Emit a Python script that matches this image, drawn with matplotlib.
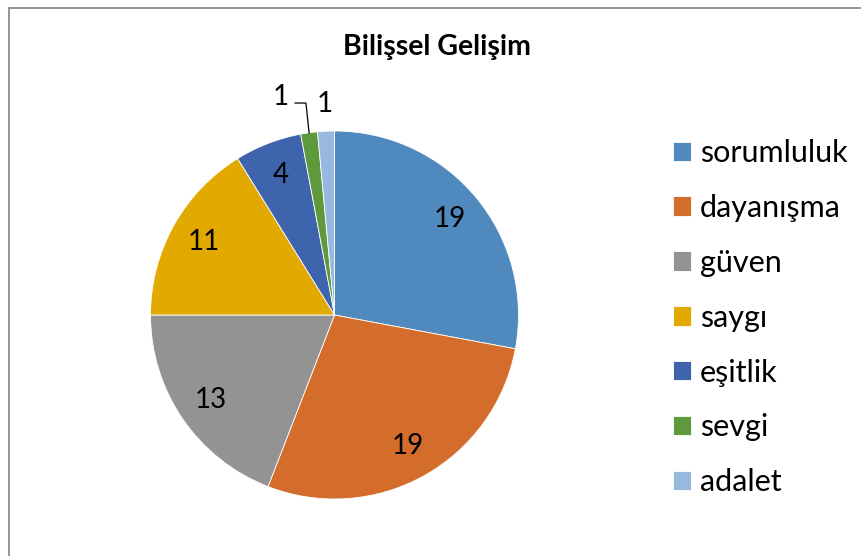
import numpy as np
import matplotlib
matplotlib.use("Agg")
import matplotlib.pyplot as plt

plt.rcParams['font.family'] = ['Lato', 'DejaVu Sans']

# veriler
labels = ['sorumluluk', 'dayanışma', 'güven', 'saygı', 'eşitlik', 'sevgi', 'adalet']
values = [19, 19, 13, 11, 4, 1, 1]
colors = ['#4F89BD', '#D46D2C', '#939393', '#E2A900', '#3E64AD', '#5E9A3B', '#97B9E0']
title = 'Bilişsel Gelişim'

W, H = 861, 556
fig = plt.figure(figsize=(W / 100, H / 100), dpi=100)

# dış çerçeve (sağ ve alt kenar görünmüyor)
fig.add_artist(plt.Line2D([8.5 / W, 8.5 / W], [0, 1 - 7.5 / H], transform=fig.transFigure,
                          color='#8C8C8C', linewidth=1.3))
fig.add_artist(plt.Line2D([8.5 / W, 1], [1 - 7.5 / H, 1 - 7.5 / H], transform=fig.transFigure,
                          color='#8C8C8C', linewidth=1.3))

cx, cy, r = 334.5, 315, 184
ax = fig.add_axes([(cx - r) / W, (H - cy - r) / H, 2 * r / W, 2 * r / H])

wedges, _ = ax.pie(values, colors=colors, startangle=90, counterclock=False,
                   radius=1, wedgeprops=dict(edgecolor='white', linewidth=0.6))
ax.set_xlim(-1, 1)
ax.set_ylim(-1, 1)
ax.set_aspect('equal')
ax.axis('off')

fs = 20
# veri etiketleri
for i, (w, v) in enumerate(zip(wedges, values)):
    ang = np.deg2rad((w.theta1 + w.theta2) / 2)
    if v > 1:
        d = 0.815
        ax.text(d * np.cos(ang), d * np.sin(ang), str(v), ha='center', va='center',
                fontsize=fs, color='black')
    elif labels[i] == 'adalet':
        d = 1.15
        ax.text(d * np.cos(ang), d * np.sin(ang), str(v), ha='center', va='center',
                fontsize=fs, color='black', clip_on=False)
    else:
        ex, ey = np.cos(ang), np.sin(ang)
        ly = 1.152
        ax.plot([ex - 0.076, ex - 0.017, ex], [ly, ly, ey], color='black', linewidth=0.9,
                clip_on=False, solid_joinstyle='miter')
        ax.text(ex - 0.152, ly + 0.033, str(v), ha='center', va='center',
                fontsize=fs, color='black', clip_on=False)

fig.text(437 / W, 1 - 47 / H, title, ha='center', va='center', fontsize=20.5,
         fontweight='bold', color='black')

leg = fig.legend(wedges, labels, loc='upper left', bbox_to_anchor=(673 / W, 1 - 139 / H),
                 frameon=False, fontsize=22, handlelength=0.6, handleheight=0.6,
                 handletextpad=0.28, labelspacing=0.88, borderaxespad=0, borderpad=0)

fig.savefig('out.png', dpi=100)
